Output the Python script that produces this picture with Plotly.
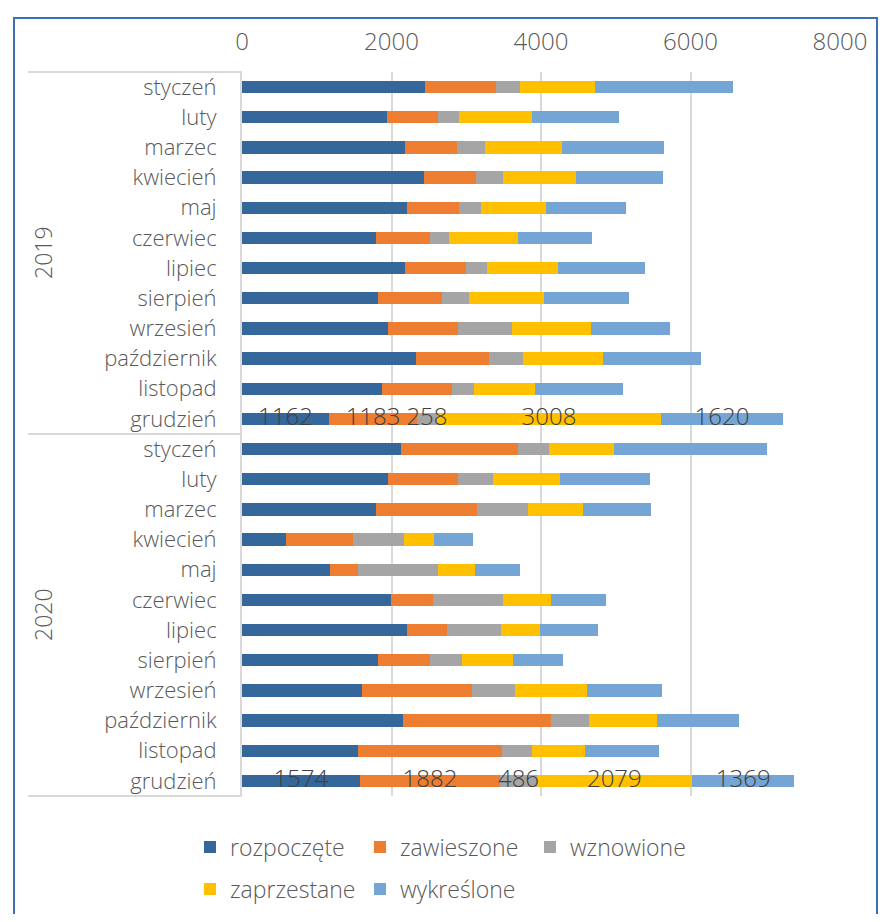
import plotly.graph_objects as go

months = ["styczeń", "luty", "marzec", "kwiecień", "maj", "czerwiec",
          "lipiec", "sierpień", "wrzesień", "październik", "listopad", "grudzień"]
years = ["2019", "2020"]

series_names = ["rozpoczęte", "zawieszone", "wznowione", "zaprzestane", "wykreślone"]
colors = ["#35679A", "#ED7D31", "#A5A5A5", "#FFC000", "#75A5D4"]

# 2019 then 2020, styczeń..grudzień
rozpoczete = [2449, 1946, 2175, 2440, 2202, 1793, 2180, 1825, 1951, 2324, 1874, 1162,
              2126, 1951, 1793, 589, 1173, 1987, 2209, 1820, 1606, 2155, 1553, 1574]
zawieszone = [951, 670, 697, 697, 706, 728, 818, 845, 934, 982, 939, 1183,
              1568, 943, 1349, 894, 378, 570, 535, 697, 1473, 1982, 1928, 1882]
wznowione = [320, 287, 378, 348, 292, 252, 280, 364, 726, 459, 293, 258,
             408, 468, 690, 688, 1065, 938, 723, 428, 576, 508, 401, 486]
zaprzestane = [997, 977, 1035, 983, 867, 914, 950, 1002, 1062, 1068, 818, 3008,
               874, 892, 725, 395, 503, 643, 522, 683, 963, 911, 710, 2079]
wykreslone = [1858, 1158, 1354, 1162, 1073, 990, 1166, 1140, 1051, 1301, 1167, 1620,
              2053, 1198, 908, 526, 606, 735, 777, 669, 1004, 1097, 990, 1369]

x_ticks = [0, 2000, 4000, 6000, 8000]
labelled_month = "grudzień"

series = [rozpoczete, zawieszone, wznowione, zaprzestane, wykreslone]
cat_ids = [f"{y}|{m}" for y in years for m in months]
cat_text = [m for y in years for m in months]
n_cat = len(cat_ids)

FONT = "Open Sans"
TXT = "#404040"
GRAY_TXT = "#595959"

# page has an 8px body margin; work in figure pixels (page px - 8)
OFF = 8
W, H = 870, 906
L = 242 - OFF
T = 72 - OFF
R = W - (840 - OFF)
B = H - (796 - OFF)
pw, ph = W - L - R, H - T - B


def fx(page_px):
    return (page_px - OFF - L) / pw


def fy(page_py):
    return (H - B - (page_py - OFF)) / ph


fig = go.Figure()
for i, (name, vals, col) in enumerate(zip(series_names, series, colors)):
    fig.add_trace(go.Bar(
        y=cat_ids, x=vals, name=name, orientation="h",
        marker=dict(color=col, line=dict(width=0)),
        legend="legend" if i < 3 else "legend2",
        hoverinfo="x+name",
    ))

# data labels (drawn above all bars) for the December rows
lab_x, lab_y, lab_t = [], [], []
for j, cid in enumerate(cat_ids):
    if not cid.endswith(labelled_month):
        continue
    base = 0
    for vals in series:
        lab_x.append(base + vals[j] / 2)
        lab_y.append(cid)
        lab_t.append(str(vals[j]))
        base += vals[j]
fig.add_trace(go.Scatter(
    x=lab_x, y=lab_y, text=lab_t, mode="text", showlegend=False,
    textposition="middle center", hoverinfo="skip", cliponaxis=False,
    textfont=dict(family=FONT, size=24, color=TXT, weight=300),
))

shapes = []
line_col = "#D9D9D9"
for yp in [1.0, 0.0]:
    shapes.append(dict(type="line", xref="paper", yref="paper",
                       x0=fx(28), x1=0, y0=yp, y1=yp,
                       line=dict(color=line_col, width=2)))
shapes.append(dict(type="line", xref="paper", yref="y",
                   x0=fx(28), x1=0, y0=11.5, y1=11.5,
                   line=dict(color=line_col, width=2)))
# outer chart border
shapes.append(dict(type="rect", xref="paper", yref="paper",
                   x0=fx(14), x1=fx(877),
                   y0=fy(950), y1=fy(18),
                   line=dict(color="#3E70B0", width=2), layer="below"))

annotations = []
for yr, idx in [("2019", 5.5), ("2020", 17.5)]:
    annotations.append(dict(text=yr, xref="paper", yref="y",
                            x=fx(43), y=idx, showarrow=False,
                            textangle=-90, xanchor="center", yanchor="middle",
                            font=dict(family=FONT, size=23, color=GRAY_TXT, weight=300)))

leg_font = dict(family=FONT, size=23, color=GRAY_TXT, weight=300)
fig.update_layout(
    width=W, height=H,
    margin=dict(l=L, r=R, t=T, b=B, pad=0, autoexpand=False),
    paper_bgcolor="white", plot_bgcolor="white",
    barmode="stack", bargap=0.59,
    font=dict(family=FONT, size=20, color=GRAY_TXT, weight=300),
    shapes=shapes, annotations=annotations,
    xaxis=dict(side="top", range=[0, 8000], tickvals=x_ticks,
               ticktext=[str(v) for v in x_ticks],
               showgrid=True, gridcolor=line_col, gridwidth=2,
               zeroline=False, showline=False, ticks="",
               ticklabelstandoff=16, automargin=False,
               tickfont=dict(family=FONT, size=24, color=GRAY_TXT, weight=300)),
    yaxis=dict(type="category", categoryorder="array", categoryarray=cat_ids,
               tickvals=cat_ids, ticktext=cat_text, autorange=False,
               range=[n_cat - 0.5, -0.5],
               showgrid=False, zeroline=False, showline=True,
               linecolor=line_col, linewidth=2, ticks="",
               ticklabelstandoff=19, automargin=False,
               tickfont=dict(family=FONT, size=22, color=GRAY_TXT, weight=300)),
    legend=dict(orientation="h", x=fx(190), y=fy(847),
                xanchor="left", yanchor="middle", entrywidth=125,
                font=leg_font, bgcolor="rgba(0,0,0,0)", traceorder="normal"),
    legend2=dict(orientation="h", x=fx(190), y=fy(889),
                 xanchor="left", yanchor="middle", entrywidth=125,
                 font=leg_font, bgcolor="rgba(0,0,0,0)", traceorder="normal"),
    showlegend=True,
)

fig.write_html("out.html")
